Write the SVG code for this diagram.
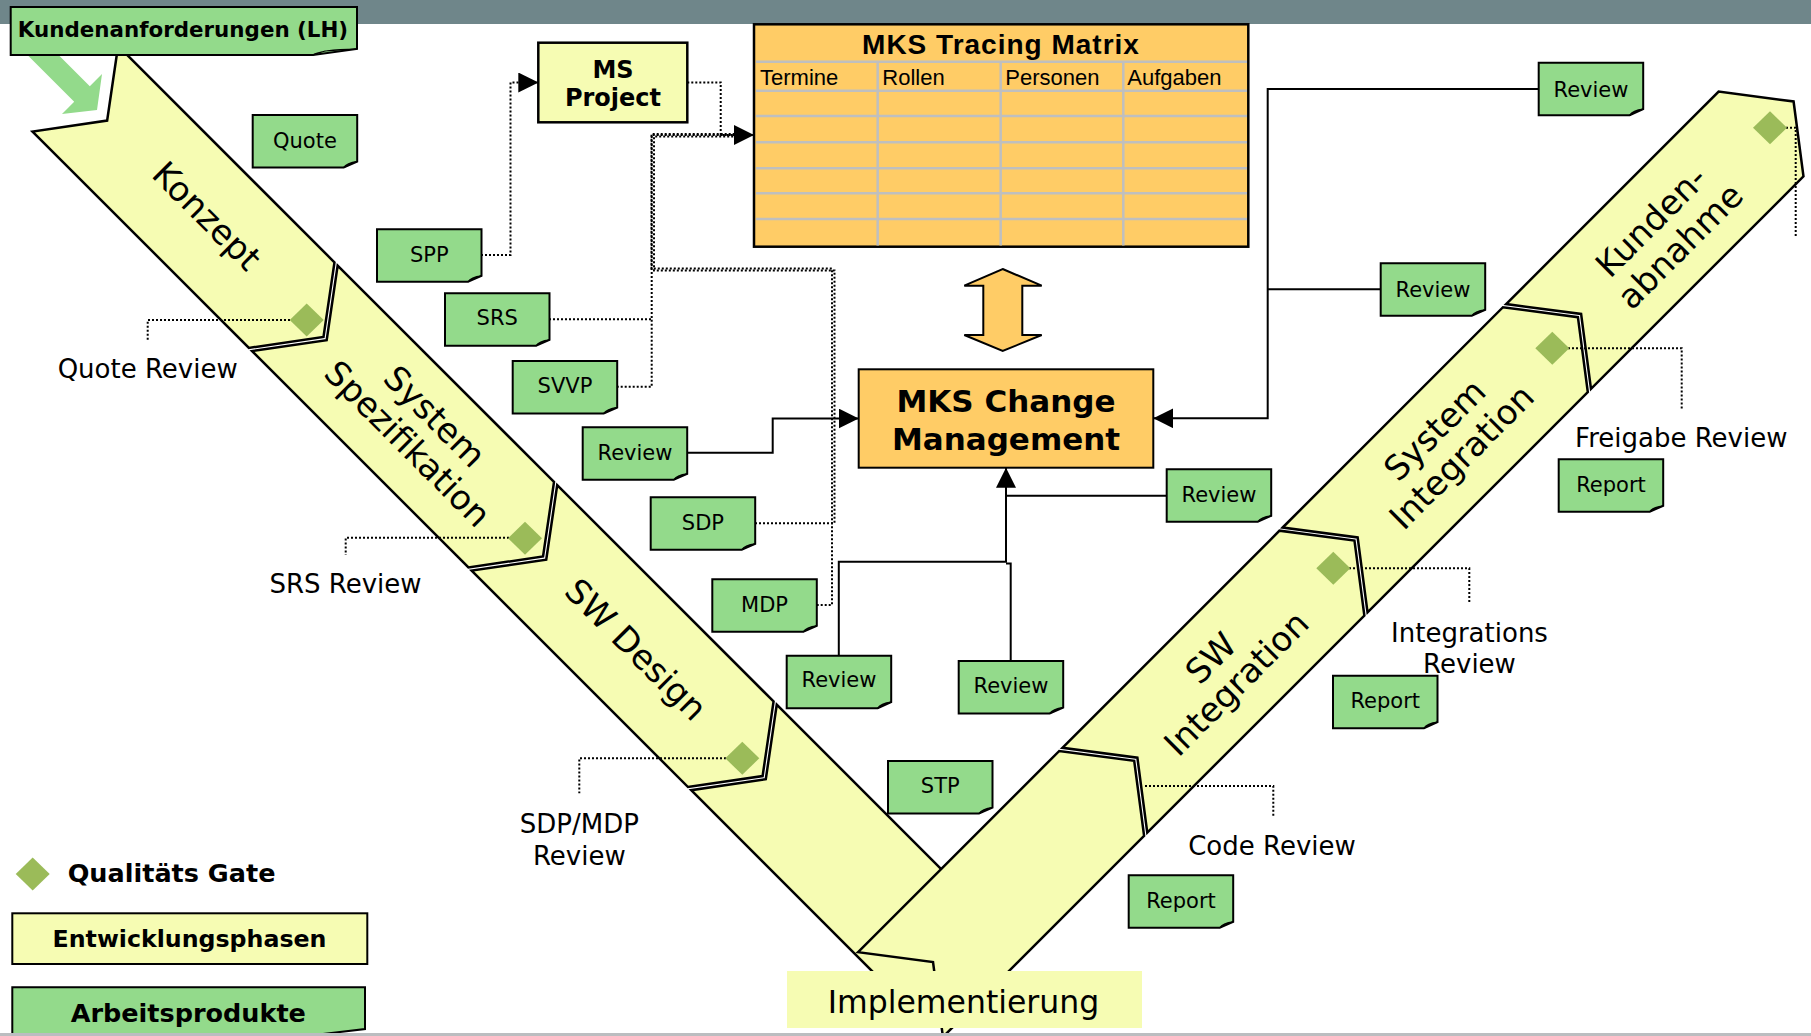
<svg xmlns="http://www.w3.org/2000/svg" xmlns:xlink="http://www.w3.org/1999/xlink" width="1811" height="1036" viewBox="0 0 1811 1036">
<style>
.band{fill:#F6FCB3;stroke:#000;stroke-width:2.5;stroke-linejoin:miter}
.dot{fill:none;stroke:#000;stroke-width:2;stroke-dasharray:2 2}
.conn{fill:none;stroke:#000;stroke-width:2}
.t{font-family:"DejaVu Sans",Verdana,sans-serif;fill:#000}
.a{font-family:"Liberation Sans",Arial,sans-serif;fill:#000}
.nt{font-size:21px;text-anchor:middle}
.lbl{font-size:26px;text-anchor:middle}
.ph{font-size:34px;text-anchor:middle}
.b{font-weight:bold}
.grid{stroke:#BFBFBF;stroke-width:2.5;fill:none}
</style>
<defs>
<path id="note" d="M0,0 H104.5 V46.5 L91,52.5 H0 Z" fill="#93DA8B" stroke="#000" stroke-width="2"/>
<path id="fold" d="M91,52.5 Q94,47.6 104.5,46.5 L97,48.6 Z" fill="#6DB467" stroke="#000" stroke-width="1.2"/>
<path id="gate" d="M0,-16.5 L17,0 L0,16.5 L-17,0 Z" fill="#9BBB59"/>
<marker id="arr" viewBox="0 0 20 20" refX="20" refY="10" markerWidth="20" markerHeight="20" markerUnits="userSpaceOnUse" orient="auto">
<path d="M0,0 L20,10 L0,20 Z" fill="#000"/>
</marker>
</defs>
<rect x="0" y="0" width="1811" height="1036" fill="#fff"/>
<rect x="0" y="0" width="1811" height="24" fill="#6F868A"/>

<!-- left arm phases -->
<g id="phase-konzept" transform="rotate(45)">
<polygon class="band" points="116,-51 422,-51 467,9.5 422,70 116,70 161,9.5"/>
<text class="t ph" x="299" y="10" dy="0.245em">Konzept</text>
</g>
<g id="phase-systemspez" transform="rotate(45)">
<polygon class="band" points="426.5,-51 732.5,-51 777.5,9.5 732.5,70 426.5,70 471.5,9.5"/>
<text class="t ph" x="602" y="-9.4" dy="0.245em">System</text>
<text class="t ph" x="602" y="28.6" dy="0.26em">Spezifikation</text>
</g>
<g id="phase-swdesign" transform="rotate(45)">
<polygon class="band" points="737,-51 1043,-51 1088,9.5 1043,70 737,70 782,9.5"/>
<text class="t ph" x="909" y="13" dy="0.25em">SW Design</text>
</g>
<g id="phase-impl-left" transform="rotate(45)">
<polygon class="band" points="1047.5,-51 1355,-51 1400,9.5 1355,70 1047.5,70 1092.5,9.5"/>
</g>
<!-- right arm phases -->
<g id="phase-impl-right" transform="rotate(-45)">
<polygon class="band" points="-66.5,1280 218,1280 264,1340 218,1400 -66.5,1400 -20.5,1340"/>
</g>
<g id="phase-swint" transform="rotate(-45)">
<polygon class="band" points="222.5,1280 529.5,1280 575.5,1340 529.5,1400 222.5,1400 268.5,1340"/>
<text class="t ph" x="391" y="1321" dy="0.365em">SW</text>
<text class="t ph" x="391" y="1361" dy="0.245em">Integration</text>
</g>
<g id="phase-sysint" transform="rotate(-45)">
<polygon class="band" points="534,1280 845.5,1280 891.5,1340 845.5,1400 534,1400 580,1340"/>
<text class="t ph" x="710.5" y="1322" dy="0.245em">System</text>
<text class="t ph" x="710.5" y="1360" dy="0.245em">Integration</text>
</g>
<g id="phase-kunden" transform="rotate(-45)">
<polygon class="band" points="850,1280 1150.5,1280 1196.5,1340 1150.5,1400 850,1400 896,1340"/>
<text class="t ph" x="1011" y="1323" dy="0.38em">Kunden-</text>
<text class="t ph" x="1014" y="1361" dy="0.38em">abnahme</text>
</g>
<g id="implementierung">
<rect x="787" y="971" width="355" height="57" fill="#F6FCB3"/>
<text class="t" x="963.5" y="1013" font-size="31.5" text-anchor="middle">Implementierung</text>
</g>

<!-- input arrow and customer requirements -->
<polygon id="input-arrow" points="39.8,36.2 89.8,86.2 102,74 97,110 62,114 74.2,101.8 24.2,51.8" fill="#93DA8B"/>
<g id="kundenanforderungen">
<path d="M10.7,7 H357 V49 L313,55 H10.7 Z" fill="#93DA8B" stroke="#000" stroke-width="2"/>
<path d="M313,55 Q320,49.5 357,49 L325,51 Z" fill="#6DB467" stroke="#000" stroke-width="1.2"/>
<text class="t b" x="183" y="37" font-size="21.4" text-anchor="middle">Kundenanforderungen (LH)</text>
</g>

<!-- quality gates -->
<g id="gates">
<path class="dot" d="M290,320 H147.7 V340"/>
<use href="#gate" x="306.7" y="320"/>
<path class="dot" d="M509,537.7 H345.7 V555"/>
<use href="#gate" x="525" y="538.3"/>
<path class="dot" d="M726,758.3 H579.3 V793.3"/>
<use href="#gate" x="742.3" y="758.3"/>
<path class="dot" d="M1145,786 H1273.3 V816.7"/>
<path class="dot" d="M1349,568.3 H1469.3 V603.3"/>
<use href="#gate" x="1333.3" y="568.3"/>
<path class="dot" d="M1568,348.3 H1681.7 V410"/>
<use href="#gate" x="1552.3" y="348.3"/>
<path class="dot" d="M1786,127.7 H1795.7 V236.7"/>
<use href="#gate" x="1770" y="127.7"/>
</g>
<g id="gate-labels">
<text class="t lbl" x="147.7" y="378.3">Quote Review</text>
<text class="t lbl" x="345.5" y="593.3">SRS Review</text>
<text class="t lbl" x="579.3" y="833.3">SDP/MDP</text>
<text class="t lbl" x="579.3" y="865">Review</text>
<text class="t lbl" x="1272" y="855">Code Review</text>
<text class="t lbl" x="1469.5" y="641.7">Integrations</text>
<text class="t lbl" x="1469.5" y="673.3">Review</text>
<text class="t lbl" x="1681.3" y="446.7">Freigabe Review</text>
</g>

<!-- connectors -->
<g id="connectors">
<path class="dot" d="M481,255 H510.5 V82.5 H538.3" marker-end="url(#arr)"/>
<path class="dot" d="M687.3,82.5 H720.7 V135 H754" marker-end="url(#arr)"/>
<path class="dot" d="M549,319.3 H651.7 V135 H740"/>
<path class="dot" d="M616.7,386.7 H651.7 V319.3"/>
<path class="dot" d="M755,523.3 H834.5 V270.5 H654 V136.5 H740"/>
<path class="dot" d="M816.7,605 H832 V268.5 H651.5 V134 H740"/>
<path class="conn" d="M687.3,452.7 H772.7 V418.5 H858.7" marker-end="url(#arr)"/>
<path class="conn" d="M1538.7,89 H1267.7 V418.3 H1153.3" marker-end="url(#arr)"/>
<path class="conn" d="M1380.7,289.3 H1267.7"/>
<path class="conn" d="M1166.7,495.7 H1006 V467.7" marker-end="url(#arr)"/>
<path class="conn" d="M838.8,655.7 V561.7 H1006 V495.7"/>
<path class="conn" d="M1010.7,661 V563.5 H1006"/>
</g>

<!-- MS Project -->
<g id="ms-project">
<rect x="538.3" y="42.7" width="149" height="79.6" fill="#F6FCB3" stroke="#000" stroke-width="2.5"/>
<text class="t b" x="613" y="78.3" font-size="24" text-anchor="middle">MS</text>
<text class="t b" x="613" y="106" font-size="24" text-anchor="middle">Project</text>
</g>

<!-- Tracing matrix -->
<g id="tracing-matrix">
<rect x="754" y="24.3" width="494.3" height="222.4" fill="#FFCC66" stroke="#000" stroke-width="2.5"/>
<path class="grid" d="M756,61.7 H1247 M756,90.7 H1247 M756,116 H1247 M756,142.3 H1247 M756,168.3 H1247 M756,193.3 H1247 M756,219 H1247 M877.7,61.7 V245.5 M1000.7,61.7 V245.5 M1123.3,61.7 V245.5"/>
<text class="a b" x="1001" y="54" font-size="28" text-anchor="middle" letter-spacing="1">MKS Tracing Matrix</text>
<text class="a" x="760" y="85" font-size="22">Termine</text>
<text class="a" x="882.3" y="85" font-size="22">Rollen</text>
<text class="a" x="1005.3" y="85" font-size="22">Personen</text>
<text class="a" x="1127.3" y="85" font-size="22">Aufgaben</text>
</g>

<path id="sync-arrow" d="M1002.7,269 L1041.7,285.7 H1022.3 V335 H1041.7 L1002.7,351 L964.3,335 H983.3 V285.7 H964.3 Z" fill="#FFCC66" stroke="#000" stroke-width="2"/>

<g id="mks-change">
<rect x="858.7" y="369.3" width="294.6" height="98.4" fill="#FFCC66" stroke="#000" stroke-width="2"/>
<text class="t b" x="1006" y="412" font-size="31" text-anchor="middle">MKS Change</text>
<text class="t b" x="1006" y="450" font-size="31" text-anchor="middle">Management</text>
</g>

<!-- work products -->
<g id="wp-quote" transform="translate(252.7,115)"><use href="#note"/><use href="#fold"/><text class="t nt" x="52.25" y="32.5">Quote</text></g>
<g id="wp-spp" transform="translate(377,229.3)"><use href="#note"/><use href="#fold"/><text class="t nt" x="52.25" y="32.5">SPP</text></g>
<g id="wp-srs" transform="translate(445,293.3)"><use href="#note"/><use href="#fold"/><text class="t nt" x="52.25" y="32">SRS</text></g>
<g id="wp-svvp" transform="translate(512.7,361)"><use href="#note"/><use href="#fold"/><text class="t nt" x="52.25" y="32.3">SVVP</text></g>
<g id="wp-review-1" transform="translate(582.7,427.3)"><use href="#note"/><use href="#fold"/><text class="t nt" x="52.25" y="32.7">Review</text></g>
<g id="wp-sdp" transform="translate(650.7,497.3)"><use href="#note"/><use href="#fold"/><text class="t nt" x="52.25" y="32.7">SDP</text></g>
<g id="wp-mdp" transform="translate(712.3,579.3)"><use href="#note"/><use href="#fold"/><text class="t nt" x="52.25" y="32.4">MDP</text></g>
<g id="wp-review-2" transform="translate(786.7,655.7)"><use href="#note"/><use href="#fold"/><text class="t nt" x="52.25" y="31.5">Review</text></g>
<g id="wp-review-3" transform="translate(958.7,661)"><use href="#note"/><use href="#fold"/><text class="t nt" x="52.25" y="32">Review</text></g>
<g id="wp-review-4" transform="translate(1166.7,469.3)"><use href="#note"/><use href="#fold"/><text class="t nt" x="52.25" y="32.4">Review</text></g>
<g id="wp-stp" transform="translate(888,761)"><use href="#note"/><use href="#fold"/><text class="t nt" x="52.25" y="32">STP</text></g>
<g id="wp-report-code" transform="translate(1128.7,875.3)"><use href="#note"/><use href="#fold"/><text class="t nt" x="52.25" y="32.4">Report</text></g>
<g id="wp-report-int" transform="translate(1333,675.7)"><use href="#note"/><use href="#fold"/><text class="t nt" x="52.25" y="32.6">Report</text></g>
<g id="wp-report-frei" transform="translate(1558.7,459.3)"><use href="#note"/><use href="#fold"/><text class="t nt" x="52.25" y="32.4">Report</text></g>
<g id="wp-review-5" transform="translate(1538.7,62.7)"><use href="#note"/><use href="#fold"/><text class="t nt" x="52.25" y="34">Review</text></g>
<g id="wp-review-6" transform="translate(1380.7,263.3)"><use href="#note"/><use href="#fold"/><text class="t nt" x="52.25" y="33.4">Review</text></g>

<!-- legend -->
<g id="legend-gate">
<use href="#gate" x="32.7" y="874"/>
<text class="t b" x="67.7" y="881.7" font-size="25.5">Qualitäts Gate</text>
</g>
<g id="legend-phases">
<rect x="12.3" y="913.3" width="355" height="50.7" fill="#F6FCB3" stroke="#000" stroke-width="2"/>
<text class="t b" x="189.5" y="946.7" font-size="23.7" text-anchor="middle">Entwicklungsphasen</text>
</g>
<g id="legend-products">
<path d="M12.3,987.3 H365 V1029 L323,1034 H12.3 Z" fill="#93DA8B" stroke="#000" stroke-width="2"/>
<text class="t b" x="188.3" y="1021.7" font-size="25.5" text-anchor="middle">Arbeitsprodukte</text>
</g>
<rect x="0" y="1033" width="1811" height="3" fill="#BBBDC0"/>
</svg>
